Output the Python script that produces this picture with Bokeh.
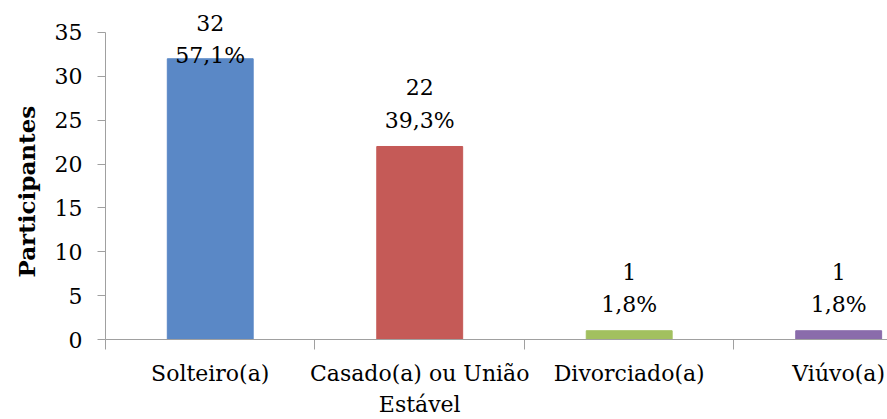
import numpy as np
from bokeh.plotting import figure
from bokeh.models import ColumnDataSource, FixedTicker, Range1d, Title
from bokeh.core.properties import value
from bokeh.embed import file_html
from bokeh.resources import INLINE

# Marital status of the participants
categories = ["Solteiro(a)", "Casado(a) ou União\nEstável", "Divorciado(a)", "Viúvo(a)"]
counts = [32, 22, 1, 1]
colors = ["#5A88C6", "#C55A57", "#A2C05F", "#8A6CAB"]
y_ticks = [0, 5, 10, 15, 20, 25, 30, 35]

Y_MAX = 35
FONT = "DejaVu Serif"
SIZE = "22px"
AXIS_GREY = "#A0A0A0"

total = sum(counts)
pct_text = [f"{100 * c / total:.1f}%".replace(".", ",") for c in counts]
num_text = [str(c) for c in counts]
xs = list(range(len(categories)))
# labels above each bar, kept inside the chart area for the tallest bar
label_base = np.minimum(np.array(counts, dtype=float), Y_MAX - 5.6)

source = ColumnDataSource(dict(
    x=xs, count=counts, color=colors,
    base=label_base, num=num_text, pct=pct_text,
))

# the frame reaches the top edge so the labels above the tallest bar stay
# visible; the value axis itself stops at Y_MAX
p = figure(
    width=887, height=419,
    output_backend="svg", toolbar_location=None,
    x_range=Range1d(-0.5, 3.233), y_range=Range1d(0, Y_MAX + 3.64),
    min_border_left=105, min_border_right=0,
    min_border_top=0, min_border_bottom=79,
)
p.outline_line_color = None
p.xgrid.visible = False
p.ygrid.visible = False
p.background_fill_color = "white"
p.border_fill_color = "white"

p.vbar(x="x", top="count", bottom=0, width=0.41, color="color", source=source)

# value and share above each bar (screen offsets: negative is upwards)
for col, off in (("pct", -26), ("num", -59)):
    p.text(
        x="x", y="base", text=col, source=source,
        y_offset=off, text_align="center", text_baseline="middle",
        text_font=value(FONT), text_font_size=SIZE, text_color="black",
    )

# y axis
yax = p.yaxis[0]
yax.bounds = (0, Y_MAX)
yax.ticker = FixedTicker(ticks=y_ticks)
yax.axis_line_color = AXIS_GREY
yax.major_tick_line_color = AXIS_GREY
yax.major_tick_out = 8
yax.major_tick_in = 0
yax.minor_tick_line_color = None
yax.major_label_standoff = 15
yax.major_label_text_font = FONT
yax.major_label_text_font_size = SIZE
yax.major_label_text_color = "black"

# axis title, starting a little above the bottom of the frame
p.add_layout(Title(
    text="Participantes", align="left", offset=62, standoff=22,
    vertical_align="middle",
    text_font=FONT, text_font_style="bold", text_font_size="23px",
    text_color="black",
), "left")

# x axis: category names at bar centres, tick marks between categories
xax = p.xaxis[0]
xax.ticker = FixedTicker(ticks=xs, minor_ticks=[i - 0.5 for i in range(len(categories) + 1)])
xax.major_label_overrides = {i: c for i, c in enumerate(categories)}
xax.axis_line_color = AXIS_GREY
xax.major_tick_line_color = None
xax.major_tick_out = 0
xax.major_tick_in = 0
xax.minor_tick_line_color = AXIS_GREY
xax.minor_tick_out = 10
xax.minor_tick_in = 0
xax.major_label_standoff = 11
xax.major_label_text_font = FONT
xax.major_label_text_font_size = SIZE
xax.major_label_text_color = "black"
xax.major_label_text_line_height = 1.25

open("out.html", "w").write(file_html(p, INLINE))
